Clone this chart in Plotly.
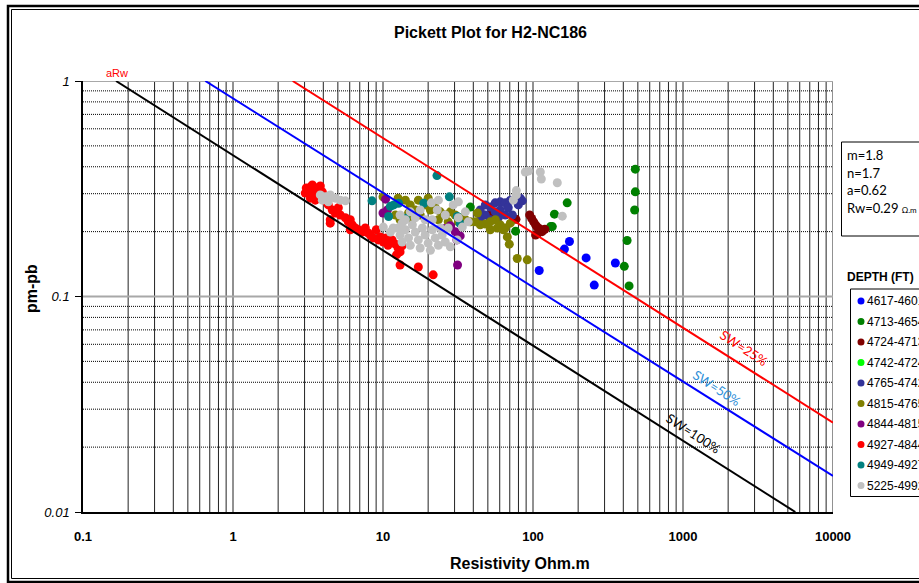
import plotly.graph_objects as go

# ---- Pickett plot data: deep resistivity (ohm.m) vs porosity (pm-pb) per depth interval ----
series_names = ["4617-4601", "4713-4654", "4724-4713", "4742-4724", "4765-4742",
                "4815-4765", "4844-4815", "4927-4844", "4949-4927", "5225-4992"]
series_colors = ["#0000FF", "#008000", "#800000", "#00FF00", "#333399",
                 "#808000", "#800080", "#FF0000", "#008080", "#C0C0C0"]

rt_4617 = [175, 162, 226, 354, 110, 256]
phi_4617 = [0.180, 0.166, 0.151, 0.143, 0.132, 0.113]

rt_4713 = [38.2, 76.6, 169, 139, 134.5, 131, 481, 481, 476, 424, 406, 437]
phi_4713 = [0.260, 0.201, 0.272, 0.241, 0.211, 0.211, 0.390, 0.306, 0.252, 0.182, 0.138, 0.112]

rt_4724 = [53, 77, 95, 98, 101, 104, 106, 110, 112, 115, 104, 108, 120]
phi_4724 = [0.243, 0.228, 0.239, 0.230, 0.222, 0.215, 0.211, 0.207, 0.204, 0.200, 0.193, 0.197, 0.205]

rt_4742 = []
phi_4742 = []

rt_4765 = [44.5, 44.5, 48.1, 48.1, 51.9, 51.9, 56.0, 58.7, 60.5, 60.5,
           65.3, 65.3, 68.4, 70.6, 72.8, 76.2, 79.8, 82.2, 84.9, 56.0]
phi_4765 = [0.227, 0.252, 0.266, 0.239, 0.260, 0.227, 0.272, 0.232, 0.275, 0.252,
            0.272, 0.239, 0.258, 0.280, 0.239, 0.283, 0.266, 0.286, 0.278, 0.247]

rt_4815 = [12.6, 14.1, 15.2, 14.8, 15.7, 17.2, 19.1, 20.7, 22.3, 24.1,
           26.0, 28.1, 30.3, 32.7, 35.4, 38.2, 41.2, 44.5, 48.1, 51.9,
           56.1, 60.5, 63.4, 67.4, 69.5, 65.3, 57.8, 78.5, 91.6, 17.7,
           20.0, 23.4, 27.2, 31.8, 70.6, 16.4, 10.0, 12.1, 13.0, 42.6, 51.9]
phi_4815 = [0.286, 0.280, 0.266, 0.244, 0.227, 0.280, 0.266, 0.252, 0.258, 0.247,
            0.239, 0.247, 0.239, 0.232, 0.227, 0.222, 0.222, 0.215, 0.217, 0.222,
            0.227, 0.215, 0.204, 0.189, 0.175, 0.208, 0.208, 0.150, 0.148, 0.239,
            0.286, 0.227, 0.222, 0.222, 0.219, 0.252, 0.290, 0.239, 0.227, 0.244, 0.204]

rt_4844 = [10.4, 10.7, 10.0, 28.1, 26.0, 30.3, 32.7, 31.1, 31.4]
phi_4844 = [0.283, 0.252, 0.244, 0.213, 0.207, 0.200, 0.191, 0.183, 0.140]

rt_4927 = [3.08, 3.18, 3.28, 3.38, 3.48, 3.59, 3.70, 3.82, 3.94, 4.06,
           4.19, 3.28, 3.54, 3.03, 3.38, 3.82,
           4.32, 4.59, 4.81, 4.45, 5.04, 5.19, 5.61, 5.87, 6.24, 6.53,
           6.05, 6.84, 7.28, 7.62, 7.98, 8.23, 8.61, 9.02, 9.31, 9.59,
           10.05, 10.5, 10.8, 11.5, 12.1, 12.6, 13.0, 13.4, 12.3, 13.0,
           17.2, 21.6, 4.45, 6.05]
phi_4927 = [0.319, 0.306, 0.322, 0.312, 0.296, 0.319, 0.302, 0.286, 0.306, 0.290,
            0.275, 0.286, 0.280, 0.302, 0.329, 0.326,
            0.266, 0.252, 0.244, 0.227, 0.258, 0.239, 0.232, 0.222, 0.215, 0.208,
            0.204, 0.204, 0.199, 0.208, 0.197, 0.193, 0.187, 0.204, 0.183, 0.189,
            0.179, 0.187, 0.173, 0.183, 0.175, 0.168, 0.161, 0.172, 0.156, 0.140,
            0.137, 0.126, 0.219, 0.227]

rt_4949 = [8.45, 10.9, 11.8, 12.7, 14.1, 18.7, 22.9, 27.7, 31.3, 32.7, 11.2]
phi_4949 = [0.278, 0.235, 0.266, 0.271, 0.231, 0.271, 0.364, 0.290, 0.235, 0.218, 0.262]

rt_5225 = [3.82, 4.12, 4.45, 4.81, 5.19, 5.61, 4.32, 3.94,
           12.6, 13.0, 13.4, 14.1, 14.8, 15.2, 15.7, 16.4, 17.2, 17.7,
           18.3, 19.1, 20.0, 20.7, 21.3, 22.3, 23.4, 24.1, 24.8, 26.0,
           21.3, 19.1, 16.4, 14.1, 23.4, 21.0, 23.0, 29.4, 31.8, 35.4,
           33.8, 37.0, 31.8, 28.1, 31.2, 17.7, 15.2, 13.0, 26.0, 27.2,
           10.05, 11.2, 11.7, 13.4,
           88.9, 93.0, 111.9, 113.6, 145.2, 77.4, 77.4, 156.8, 74.0]
phi_5225 = [0.296, 0.290, 0.296, 0.286, 0.280, 0.278, 0.275, 0.280,
            0.208, 0.193, 0.179, 0.204, 0.187, 0.173, 0.215, 0.199, 0.183, 0.168,
            0.208, 0.193, 0.177, 0.164, 0.204, 0.187, 0.173, 0.208, 0.193, 0.179,
            0.227, 0.227, 0.232, 0.227, 0.280, 0.272, 0.252, 0.266, 0.275, 0.247,
            0.210, 0.222, 0.232, 0.170, 0.183, 0.252, 0.247, 0.239, 0.239, 0.208,
            0.210, 0.199, 0.208, 0.219,
            0.378, 0.382, 0.378, 0.351, 0.337, 0.310, 0.296, 0.236, 0.280]

rt_all = [rt_4617, rt_4713, rt_4724, rt_4742, rt_4765, rt_4815, rt_4844, rt_4927, rt_4949, rt_5225]
phi_all = [phi_4617, phi_4713, phi_4724, phi_4742, phi_4765, phi_4815, phi_4844, phi_4927, phi_4949, phi_5225]

# Water-saturation iso-lines: two (Rt, phi) end points each
sw_labels = ["SW=100%", "SW=50%", "SW=25%"]
sw_rt = [[0.166, 5610], [0.654, 10000], [2.50, 10000]]
sw_phi = [[1.0, 0.01], [1.0, 0.0147], [1.0, 0.0260]]
sw_line_colors = ["#000000", "#0000FF", "#FF0000"]
sw_text_colors = ["#000000", "#2F8FD8", "#FF0000"]

param_lines = ["m=1.8", "n=1.7", "a=0.62", "Rw=0.29 <span style='font-size:8px'>Ω.m</span>"]

x_tick_vals = [0.1, 1, 10, 100, 1000, 10000]
x_tick_text = ["0.1", "1", "10", "100", "1000", "10000"]
y_tick_vals = [0.01, 0.1, 1]
y_tick_text = ["0.01", "0.1", "1"]

# ---- figure geometry (pixels) ----
W, H = 919, 583
L, R, T, B = 83, 86, 81, 71
PW, PH = W - L - R, H - T - B


def px(xp):
    return (xp - L) / PW


def py(yp):
    return (H - B - yp) / PH


def label(xp, yp, text, size, color="black", family="Liberation Sans, Arial",
          xanchor="center", angle=0):
    return dict(x=px(xp), y=py(yp), xref="paper", yref="paper", text=text,
                showarrow=False, xanchor=xanchor, yanchor="middle", textangle=angle,
                font=dict(family=family, size=size, color=color))


fig = go.Figure()

for name, color, xs, ys in zip(series_names, series_colors, rt_all, phi_all):
    fig.add_trace(go.Scatter(x=xs, y=ys, mode="markers", name=name,
                             marker=dict(color=color, size=9, line=dict(width=0)),
                             showlegend=False))

for lab, col, xs, ys in zip(sw_labels, sw_line_colors, sw_rt, sw_phi):
    fig.add_trace(go.Scatter(x=xs, y=ys, mode="lines", name=lab,
                             line=dict(color=col, width=2), showlegend=False,
                             hoverinfo="skip"))

shapes = []
# vertical grid at every 1..9 x decade
for d in range(-1, 4):
    for k in range(1, 10):
        v = k * 10 ** d
        if v <= 0.1:
            continue
        shapes.append(dict(type="line", xref="x", yref="paper", x0=v, x1=v, y0=0, y1=1,
                           line=dict(color="#222222", width=1), layer="below"))
shapes.append(dict(type="line", xref="x", yref="paper", x0=10000, x1=10000, y0=0, y1=1,
                   line=dict(color="#222222", width=1), layer="below"))
# horizontal minor grid (dotted) and decade lines (grey)
for d in (-2, -1):
    for k in range(2, 10):
        v = k * 10 ** d
        shapes.append(dict(type="line", xref="paper", yref="y", x0=0, x1=1, y0=v, y1=v,
                           line=dict(color="#000000", width=1, dash="1px,1px"), layer="below"))
for v in (0.1, 1):
    shapes.append(dict(type="line", xref="paper", yref="y", x0=0, x1=1, y0=v, y1=v,
                       line=dict(color="#a8a8a8", width=2), layer="below"))

# outer double frame of the chart
shapes.append(dict(type="rect", xref="paper", yref="paper", x0=px(8), x1=px(935), y0=py(582), y1=py(6),
                   line=dict(color="black", width=2.5), fillcolor="rgba(0,0,0,0)", layer="above"))
shapes.append(dict(type="rect", xref="paper", yref="paper", x0=px(11.5), x1=px(931), y0=py(578.5), y1=py(9.5),
                   line=dict(color="black", width=1), fillcolor="rgba(0,0,0,0)", layer="above"))

# parameter box
shapes.append(dict(type="rect", xref="paper", yref="paper", x0=px(841.5), x1=px(940), y0=py(236), y1=py(142),
                   line=dict(color="black", width=1), fillcolor="white", layer="above"))

# legend box
leg_top, leg_step = 289, 20.5
leg_first = leg_top + 12
leg_bottom = leg_first + leg_step * (len(series_names) - 1) + 11
shapes.append(dict(type="rect", xref="paper", yref="paper", x0=px(850.5), x1=px(940), y0=py(leg_bottom), y1=py(leg_top),
                   line=dict(color="black", width=1), fillcolor="white", layer="above"))

annotations = []
for i, (name, color) in enumerate(zip(series_names, series_colors)):
    yc = leg_first + i * leg_step
    shapes.append(dict(type="circle", xref="paper", yref="paper",
                       x0=px(857.5), x1=px(864.5), y0=py(yc + 3.5), y1=py(yc - 3.5),
                       line=dict(width=0), fillcolor=color, layer="above"))
    annotations.append(label(865, yc, name, 12, xanchor="left"))

annotations.append(label(845, 277, "<b>DEPTH (FT)</b>", 12, xanchor="left"))

for i, t in enumerate(param_lines):
    annotations.append(label(845, 155 + i * 17.5, t, 13, family="Lato, Open Sans", xanchor="left"))

# titles
annotations.append(label(490, 32, "<b>Pickett Plot for H2-NC186</b>", 16))
annotations.append(label(520, 563, "<b>Resistivity Ohm.m</b>", 16))
annotations.append(label(31, 289, "<b>pm-pb</b>", 16, angle=-90))
annotations.append(label(117, 73, "aRw", 11, color="#FF0000"))

# saturation line labels, set just above their lines
sw_label_pos = [(693, 433), (717, 388), (744, 348)]
for lab, col, (lx, ly) in zip(sw_labels, sw_text_colors, sw_label_pos):
    annotations.append(label(lx, ly, lab, 13, color=col, family="Lato, Open Sans", angle=33))

fig.update_layout(
    width=W, height=H,
    margin=dict(l=L, r=R, t=T, b=B, pad=0, autoexpand=False),
    paper_bgcolor="white", plot_bgcolor="white",
    showlegend=False,
    shapes=shapes, annotations=annotations,
    xaxis=dict(type="log", range=[-1, 4], showgrid=False, zeroline=False,
               showline=True, linecolor="black", linewidth=1.5, ticks="",
               tickvals=x_tick_vals, ticktext=x_tick_text, ticklabelstandoff=12,
               tickfont=dict(family="Liberation Sans, Arial", size=13, color="black", weight="bold")),
    yaxis=dict(type="log", range=[-2, 0], showgrid=False, zeroline=False,
               showline=True, linecolor="black", linewidth=1.5, ticks="outside",
               ticklen=6, tickcolor="black", tickwidth=1,
               tickvals=y_tick_vals, ticktext=y_tick_text, ticklabelstandoff=3,
               tickfont=dict(family="Liberation Sans, Arial", size=13, color="black", style="italic")),
)

fig.write_html("out.html")
